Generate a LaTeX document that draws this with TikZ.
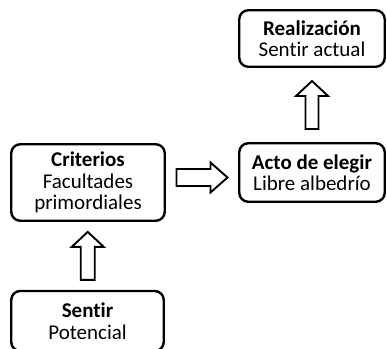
\documentclass[tikz,border=0pt]{standalone}
\usepackage{fontspec}
\setmainfont{Carlito}[Ligatures={NoCommon}]
\usetikzlibrary{calc}
\tikzset{
  box/.style={draw, line width=2.4pt, rounded corners=9pt, align=center, inner sep=0pt,
    font=\fontsize{21}{21.5}\selectfont},
  blockarrow/.style={draw, line width=1.9pt, line join=miter}
}
\begin{document}
\begin{tikzpicture}
\useasboundingbox (0pt,0pt) rectangle (387pt,348pt);
\node[box, minimum width=145.5pt, minimum height=56.5pt] (R) at (312pt,309.5pt) {\textbf{Realización}\\Sentir actual};
\node[box, minimum width=145.5pt, minimum height=58.5pt] (A) at (312pt,175.5pt) {\textbf{Acto de elegir}\\Libre albedrío};
\node[box, minimum width=153.5pt, minimum height=76.5pt] (C) at (88pt,165.5pt) {\textbf{Criterios}\\Facultades\\primordiales};
\node[box, minimum width=152.5pt, minimum height=60pt] (S) at (87.5pt,27pt) {\textbf{Sentir}\\Potencial};
% up arrow Sentir -> Criterios
\coordinate (m1) at ($(S.north)!0.5!(C.south)$);
\draw[blockarrow] ($(m1)+(-7pt,-24pt)$) -- ($(m1)+(7pt,-24pt)$) -- ($(m1)+(7pt,9pt)$) -- ($(m1)+(16pt,9pt)$)
  -- ($(m1)+(0pt,24pt)$) -- ($(m1)+(-16pt,9pt)$) -- ($(m1)+(-7pt,9pt)$) -- cycle;
% right arrow Criterios -> Acto
\coordinate (m2) at ($(C.east)!0.5!(A.west)$);
\draw[blockarrow] ($(m2)+(-25.5pt,-8.5pt)$) -- ($(m2)+(8.5pt,-8.5pt)$) -- ($(m2)+(8.5pt,-15pt)$) -- ($(m2)+(25.5pt,0pt)$)
  -- ($(m2)+(8.5pt,15pt)$) -- ($(m2)+(8.5pt,8.5pt)$) -- ($(m2)+(-25.5pt,8.5pt)$) -- cycle;
% up arrow Acto -> Realizacion
\coordinate (m3) at ($(A.north)!0.5!(R.south)$);
\draw[blockarrow] ($(m3)+(-6.5pt,-24pt)$) -- ($(m3)+(6.5pt,-24pt)$) -- ($(m3)+(6.5pt,9pt)$) -- ($(m3)+(16pt,9pt)$)
  -- ($(m3)+(0pt,24pt)$) -- ($(m3)+(-16pt,9pt)$) -- ($(m3)+(-6.5pt,9pt)$) -- cycle;
\end{tikzpicture}
\end{document}
